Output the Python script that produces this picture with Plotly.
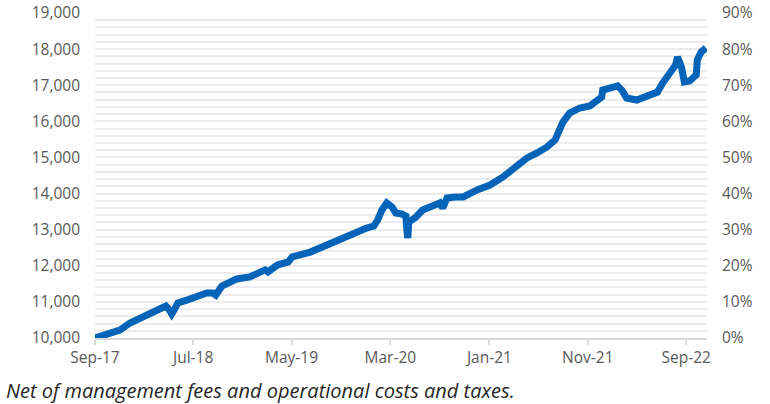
import plotly.graph_objects as go

dates = [
    "2017-09-01", "2017-09-25", "2017-10-17", "2017-11-17", "2017-12-18", "2018-01-18",
    "2018-02-18", "2018-03-21", "2018-04-08", "2018-04-17", "2018-04-26", "2018-05-05",
    "2018-05-15", "2018-06-12", "2018-07-12", "2018-08-12", "2018-08-31", "2018-09-09",
    "2018-09-28", "2018-11-13", "2018-12-23", "2019-01-17", "2019-02-08", "2019-02-17",
    "2019-03-18", "2019-04-21", "2019-05-03", "2019-06-28", "2019-07-27", "2019-08-27",
    "2019-10-06", "2019-11-18", "2019-12-19", "2020-01-10", "2020-01-22", "2020-02-04",
    "2020-02-19", "2020-03-06", "2020-03-18", "2020-04-05", "2020-04-18", "2020-04-21",
    "2020-04-24", "2020-04-27", "2020-05-19", "2020-06-09", "2020-07-10", "2020-08-01",
    "2020-08-10", "2020-08-23", "2020-09-17", "2020-10-12", "2020-11-24", "2021-01-03",
    "2021-02-12", "2021-03-12", "2021-04-06", "2021-04-27", "2021-05-28", "2021-06-28",
    "2021-07-23", "2021-08-01", "2021-08-16", "2021-09-06", "2021-10-07", "2021-11-07",
    "2021-11-29", "2021-12-14", "2021-12-17", "2022-01-17", "2022-02-01", "2022-02-14",
    "2022-03-01", "2022-04-01", "2022-05-11", "2022-06-04", "2022-06-20", "2022-07-12",
    "2022-07-30", "2022-08-05", "2022-08-17", "2022-08-26", "2022-09-11", "2022-10-02",
    "2022-10-05", "2022-10-17", "2022-11-01",
]
values = [
    10000, 10080, 10165, 10220, 10415, 10555,
    10665, 10800, 10885, 10800, 10665, 10800,
    10970, 11050, 11135, 11245, 11245, 11190,
    11440, 11635, 11690, 11775, 11885, 11830,
    12020, 12105, 12245, 12380, 12490, 12630,
    12795, 12935, 13045, 13100, 13270, 13545,
    13740, 13630, 13460, 13435, 13380, 12990,
    12770, 13210, 13350, 13545, 13655, 13740,
    13600, 13875, 13905, 13905, 14100, 14235,
    14460, 14650, 14845, 14985, 15125, 15290,
    15485, 15705, 15980, 16230, 16370, 16425,
    16565, 16675, 16865, 16950, 16980, 16865,
    16645, 16590, 16700, 16810, 17060, 17340,
    17560, 17780, 17505, 17090, 17115, 17285,
    17700, 17920, 18030,
]
tick_dates = ["2017-09-01", "2018-07-01", "2019-05-01", "2020-03-01",
              "2021-01-01", "2021-11-01", "2022-09-01"]
tick_labels = ["Sep-17", "Jul-18", "May-19", "Mar-20", "Jan-21", "Nov-21", "Sep-22"]
left_ticks = [10000, 11000, 12000, 13000, 14000, 15000, 16000, 17000, 18000, 19000]
right_ticks = [0, 0.1, 0.2, 0.3, 0.4, 0.5, 0.6, 0.7, 0.8, 0.9]
caption = "Net of management fees and operational costs and taxes."

base = values[0]
pct = [v / base - 1 for v in values]

FONT = "Open Sans"
GRAY = "#595959"
GRID = "#ececec"

fig = go.Figure()
fig.add_trace(go.Scatter(x=dates, y=values, mode="lines",
                         line=dict(color="#0563B8", width=7), showlegend=False))
fig.add_trace(go.Scatter(x=dates, y=pct, mode="lines", yaxis="y2",
                         line=dict(color="rgba(0,0,0,0)", width=0),
                         showlegend=False, hoverinfo="skip"))

fig.update_layout(
    width=770, height=404,
    margin=dict(l=95, r=63, t=13, b=66, autoexpand=False),
    paper_bgcolor="white", plot_bgcolor="white",
    font=dict(family=FONT, size=15, color=GRAY),
    xaxis=dict(
        type="date", range=["2017-09-01", "2022-11-04"],
        tickvals=tick_dates, ticktext=tick_labels,
        showgrid=False, showline=True, linecolor="#d9d9d9", linewidth=1.5,
        ticks="outside", ticklen=5, tickcolor="#d9d9d9", tickwidth=1.5,
        tickfont=dict(family=FONT, size=15.5, color=GRAY),
        zeroline=False, ticklabelstandoff=0, automargin=False,
    ),
    yaxis=dict(
        range=[10000, 19000], tickvals=left_ticks, tickformat=",d",
        showgrid=True, gridcolor=GRID, gridwidth=2,
        minor=dict(dtick=200, showgrid=True, gridcolor=GRID, gridwidth=2),
        zeroline=False, showline=False, ticks="",
        tickfont=dict(family=FONT, size=15.5, color=GRAY),
        ticklabelstandoff=14, automargin=False,
    ),
    yaxis2=dict(
        range=[0, 0.9], tickvals=right_ticks, tickformat=".0%",
        overlaying="y", side="right", showgrid=False, zeroline=False,
        showline=False, ticks="",
        tickfont=dict(family=FONT, size=15.5, color=GRAY),
        ticklabelstandoff=14, automargin=False,
    ),
    annotations=[dict(
        text=caption, xref="paper", yref="paper", x=-91/612, y=-52/325,
        xanchor="left", yanchor="middle", showarrow=False,
        font=dict(family=FONT, size=20, color="#262626", style="italic"),
    )],
)

fig.write_html("out.html", config={"displayModeBar": False},
               post_script="document.body.style.margin='0';")
